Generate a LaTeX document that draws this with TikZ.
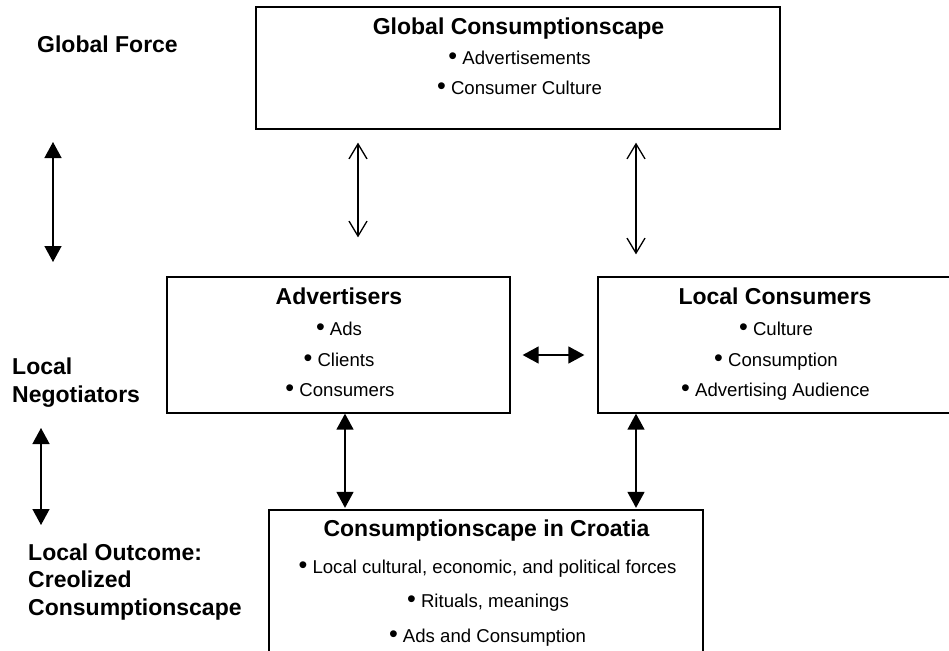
\documentclass[tikz,border=0pt]{standalone}
\usepackage{fontspec}
\usepackage{graphicx}
\setmainfont{Liberation Sans}
\usetikzlibrary{arrows.meta}
\newcommand{\bu}{\scalebox{1.35}{•}}
\begin{document}
\begin{tikzpicture}[x=1pt,y=-1pt,
  box/.style={draw, line width=1.3pt, rectangle, inner sep=0pt},
  ttl/.style={inner sep=0pt, font=\fontsize{23}{27}\selectfont\bfseries},
  txt/.style={inner sep=0pt, font=\fontsize{18.6}{22}\selectfont},
  lbl/.style={inner sep=0pt, anchor=base west, font=\fontsize{23}{27}\selectfont\bfseries},
  dfill/.style={line width=1.4pt, {Triangle[length=16pt,width=17pt]}-{Triangle[length=16pt,width=17pt]}},
  dopen/.style={line width=1.3pt, {Straight Barb[length=15pt,width=18pt]}-{Straight Barb[length=15pt,width=18pt]}}
]
\useasboundingbox (0,0) rectangle (949,650);
\clip (0,0) rectangle (949,650);
\fill[white] (0,0) rectangle (949,650);

% boxes
\node[box, minimum width=524pt, minimum height=122pt] (gc) at (518,68) {};
\node[box, minimum width=343pt, minimum height=136pt] (adv) at (338.5,345) {};
\node[box, minimum width=362pt, minimum height=136pt] (lc) at (779,345) {};
\node[box, minimum width=434pt, minimum height=160pt] (cr) at (486,590) {};

% Global Consumptionscape
\node[ttl, anchor=base] (gct) at (518.5,35) {Global Consumptionscape};
\node[txt, anchor=base] (gc1) at (519.5,65) {\bu{} Advertisements};
\node[txt, anchor=base] (gc2) at (519.5,95) {\bu{} Consumer Culture};

% Advertisers
\node[ttl, anchor=base] (advt) at (339,304) {Advertisers};
\node[txt, anchor=base] (adv1) at (339,335) {\bu{} Ads};
\node[txt, anchor=base] (adv2) at (339,366) {\bu{} Clients};
\node[txt, anchor=base] (adv3) at (340,396) {\bu{} Consumers};

% Local Consumers
\node[ttl, anchor=base] (lct) at (775,304) {Local Consumers};
\node[txt, anchor=base] (lc1) at (776,335) {\bu{} Culture};
\node[txt, anchor=base] (lc2) at (776,366) {\bu{} Consumption};
\node[txt, anchor=base] (lc3) at (775.5,396) {\bu{} Advertising Audience};

% Consumptionscape in Croatia
\node[ttl, anchor=base] (crt) at (486.5,536) {Consumptionscape in Croatia};
\node[txt, anchor=base] (cr1) at (487.5,573) {\bu{} Local cultural, economic, and political forces};
\node[txt, anchor=base] (cr2) at (488,607) {\bu{} Rituals, meanings};
\node[txt, anchor=base] (cr3) at (487.5,642) {\bu{} Ads and Consumption};

% left labels
\node[lbl] (gf) at (37,53) {Global Force};
\node[lbl] (ln1) at (12,374) {Local};
\node[lbl] (ln2) at (12,402) {Negotiators};
\node[lbl] (lo1) at (28,560) {Local Outcome:};
\node[lbl] (lo2) at (28,587) {Creolized};
\node[lbl] (lo3) at (28,615) {Consumptionscape};

% left arrows
\coordinate (f1) at (53,142);
\coordinate (f2) at (53,262);
\draw[dfill] (f1) -- (f2);
\coordinate (g1) at (41,428);
\coordinate (g2) at (41,525);
\draw[dfill] (g1) -- (g2);

% vertical guides
\coordinate (xa) at (358,0);
\coordinate (xb) at (636,0);
\coordinate (xc) at (345,0);
\coordinate (yh) at (0,355);

\draw[dopen, shorten <=13pt, shorten >=39pt] (gc.south -| xa) -- (adv.north -| xa);
\draw[dopen, shorten <=13pt, shorten >=22pt] (gc.south -| xb) -- (lc.north -| xb);
\draw[dfill, shorten >=1.5pt] (adv.south -| xc) -- (cr.north -| xc);
\draw[dfill, shorten >=1.5pt] (lc.south -| xb) -- (cr.north -| xb);
\draw[dfill, shorten <=12pt, shorten >=13pt] (adv.east |- yh) -- (lc.west |- yh);
\end{tikzpicture}
\end{document}
